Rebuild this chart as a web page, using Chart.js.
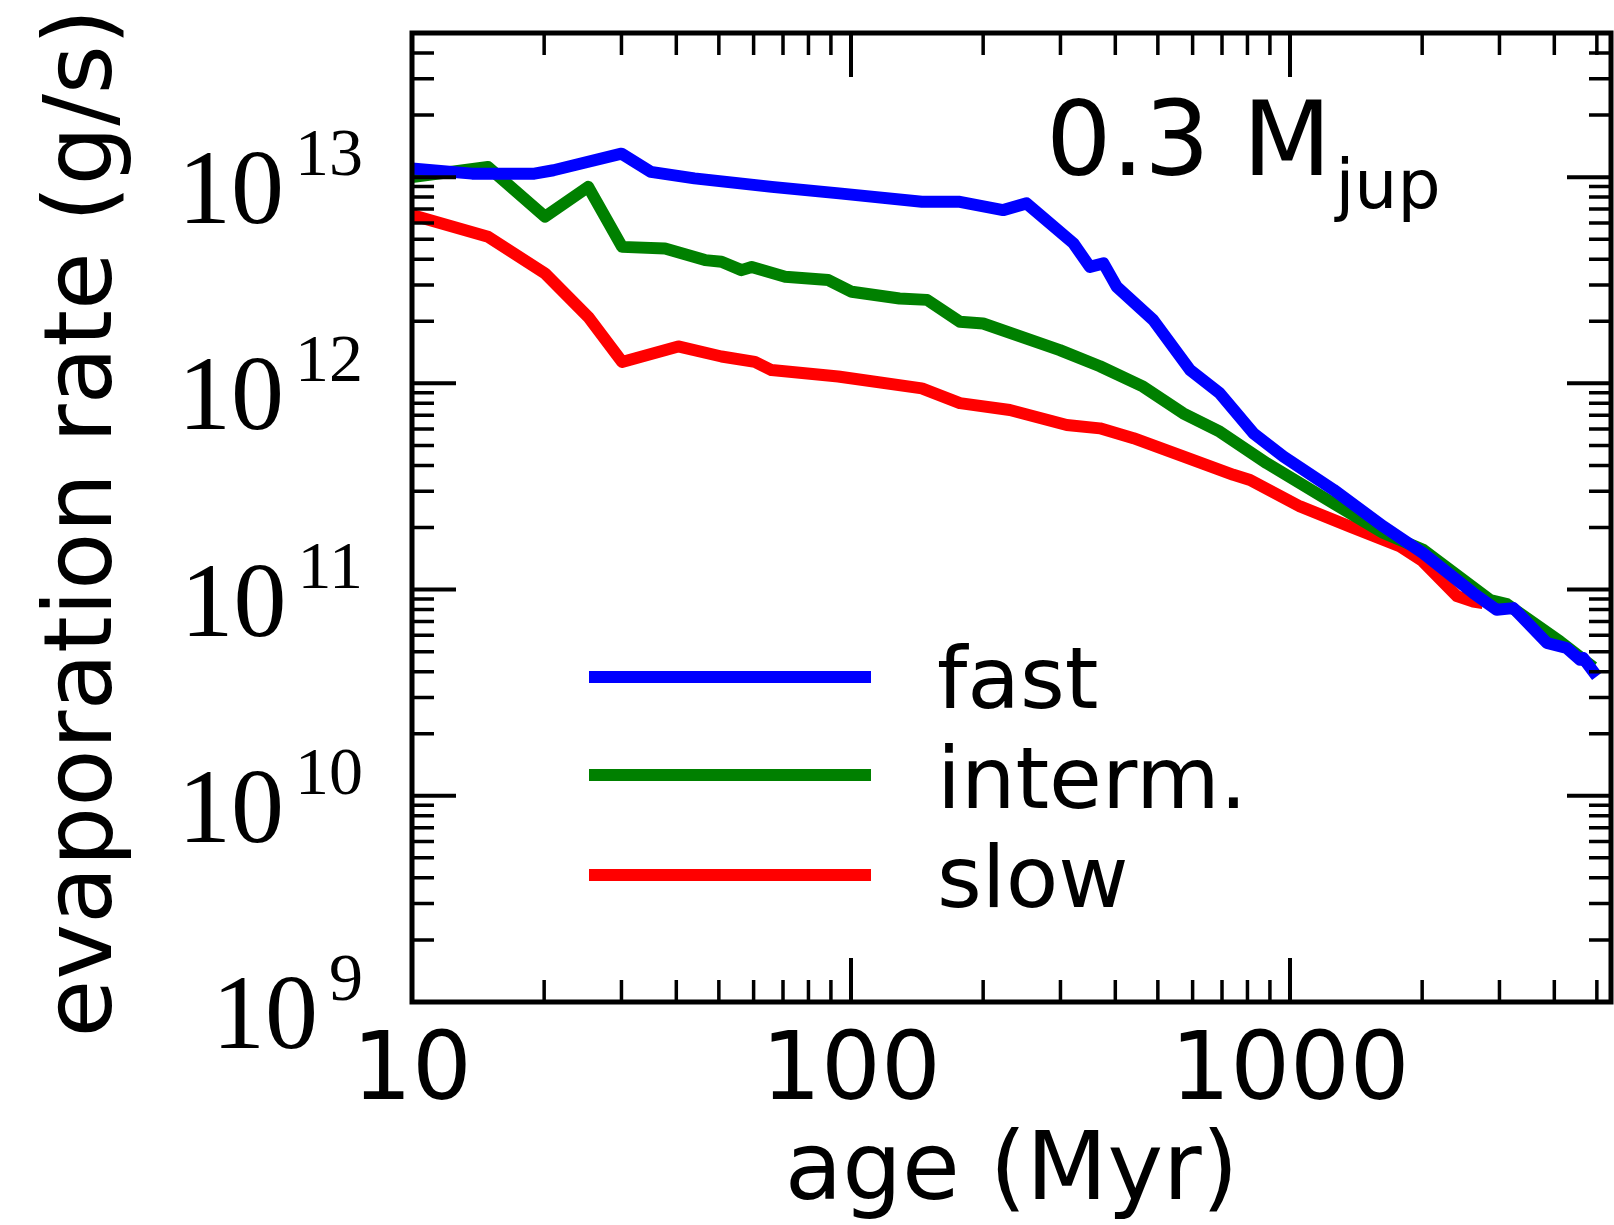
<!DOCTYPE html>
<html>
<head>
<meta charset="utf-8">
<script src="https://cdn.jsdelivr.net/npm/chart.js@4/dist/chart.umd.min.js"></script>
<style>
  html, body { margin: 0; padding: 0; background: #ffffff; }
  #wrap { width: 1614px; height: 1225px; }
</style>
</head>
<body>
<div id="wrap"><canvas id="c" width="1614" height="1225"></canvas></div>
<script>
// Evaporation rate (g/s) versus age (Myr) for three rotation histories
const fastAge = [10, 13.7, 19, 21, 30, 35, 44, 66, 94, 145, 177, 222, 251, 321, 350, 376, 403, 488, 592, 692, 825, 966, 1256, 1633, 2011, 2615, 2958, 3228, 3848, 4267, 4576, 4650, 5000];
const fastRate = [1.10e13, 1.04e13, 1.04e13, 1.08e13, 1.30e13, 1.06e13, 9.86e12, 8.97e12, 8.34e12, 7.59e12, 7.59e12, 6.92e12, 7.46e12, 4.78e12, 3.67e12, 3.82e12, 2.94e12, 2.03e12, 1.16e12, 8.95e11, 5.73e11, 4.42e11, 3.05e11, 2.02e11, 1.50e11, 9.62e10, 7.98e10, 8.13e10, 5.51e10, 5.21e10, 4.57e10, 4.66e10, 3.79e10];

const intermAge = [10, 14.9, 20.1, 25.2, 30.1, 37.7, 46.5, 50.7, 56.3, 59.4, 70.8, 88.8, 100.4, 129, 149, 177, 200, 299, 369, 463, 571, 692, 885, 1256, 1633, 2011, 2858, 3119, 4121, 4910];
const intermRate = [1.00e13, 1.12e13, 6.43e12, 8.97e12, 4.59e12, 4.51e12, 3.96e12, 3.89e12, 3.54e12, 3.67e12, 3.29e12, 3.17e12, 2.78e12, 2.58e12, 2.54e12, 1.99e12, 1.95e12, 1.45e12, 1.21e12, 9.64e11, 7.16e11, 5.83e11, 4.10e11, 2.62e11, 1.88e11, 1.56e11, 8.9e10, 8.5e10, 5.6e10, 4.2e10];

const slowAge = [10, 14.9, 20.1, 25.2, 30.1, 40.4, 50.7, 60.4, 65.9, 93.5, 145, 177, 230, 310, 369, 440, 571, 743, 811, 1054, 1371, 1782, 2000, 2399, 2615, 2750];
const slowRate = [6.55e12, 5.14e12, 3.41e12, 2.10e12, 1.27e12, 1.51e12, 1.35e12, 1.27e12, 1.16e12, 1.08e12, 9.46e11, 8.02e11, 7.43e11, 6.28e11, 6.05e11, 5.42e11, 4.42e11, 3.60e11, 3.40e11, 2.53e11, 2.02e11, 1.62e11, 1.38e11, 9.29e10, 8.75e10, 8.60e10];

const seriesNames = ['fast', 'interm.', 'slow'];
const seriesColors = ['#0000ff', '#008000', '#ff0000'];

const xTickValues = [10, 100, 1000];
const xTickLabels = ['10', '100', '1000'];
const yTickExponents = [9, 10, 11, 12, 13];

const xTitle = 'age (Myr)';
const yTitle = 'evaporation rate (g/s)';
const massMain = '0.3 M';
const massSub = 'jup';

const X_MIN = 10, X_MAX = 5385;
const Y_MIN = 1e9, Y_MAX = 5e13;

const toPoints = (ages, rates) => ages.map((a, i) => ({ x: a, y: rates[i] }));

const SANS = '"DejaVu Sans", sans-serif';
const SERIF = '"Liberation Serif", "DejaVu Serif", serif';

// frame, inward ticks, tick labels, axis titles, legend and mass annotation
const decorations = {
  id: 'decorations',
  afterDraw(chart) {
    const ctx = chart.ctx;
    const area = chart.chartArea;
    const xs = chart.scales.x, ys = chart.scales.y;
    ctx.save();
    ctx.strokeStyle = '#000';
    ctx.fillStyle = '#000';
    ctx.lineCap = 'butt';

    const MAJ = 44, MIN = 22;
    // x ticks (bottom and top)
    const xTicks = [];
    for (let d = 10; d < X_MAX; d *= 10) {
      xTicks.push({ v: d, major: true });
      for (let m = 2; m <= 9; m++) if (m * d < X_MAX) xTicks.push({ v: m * d, major: false });
    }
    xTicks.forEach(t => {
      const px = xs.getPixelForValue(t.v);
      const len = t.major ? MAJ : MIN;
      ctx.lineWidth = t.major ? 4 : 3.5;
      ctx.beginPath();
      ctx.moveTo(px, area.bottom); ctx.lineTo(px, area.bottom - len);
      ctx.moveTo(px, area.top); ctx.lineTo(px, area.top + len);
      ctx.stroke();
    });
    // y ticks (left and right)
    const yTicks = [];
    for (let e = 9; e <= 13; e++) {
      const d = Math.pow(10, e);
      yTicks.push({ v: d, major: true });
      for (let m = 2; m <= 9; m++) if (m * d < Y_MAX * 0.999) yTicks.push({ v: m * d, major: false });
    }
    yTicks.forEach(t => {
      const py = ys.getPixelForValue(t.v);
      const len = t.major ? MAJ : MIN;
      ctx.lineWidth = t.major ? 4 : 3.5;
      ctx.beginPath();
      ctx.moveTo(area.left, py); ctx.lineTo(area.left + len, py);
      ctx.moveTo(area.right, py); ctx.lineTo(area.right - len, py);
      ctx.stroke();
    });

    // frame
    ctx.lineWidth = 5;
    ctx.strokeRect(area.left, area.top, area.right - area.left, area.bottom - area.top);

    // x tick labels
    ctx.font = '94px ' + SANS;
    ctx.textAlign = 'center';
    ctx.textBaseline = 'alphabetic';
    xTickValues.forEach((v, i) => {
      ctx.fillText(xTickLabels[i], xs.getPixelForValue(v), area.bottom + 97);
    });

    // y tick labels: 10 with superscript exponent, right aligned
    const rightEdge = 363;
    yTickExponents.forEach(e => {
      const py = ys.getPixelForValue(Math.pow(10, e));
      ctx.textAlign = 'right';
      ctx.font = '68px ' + SERIF;
      const sup = String(e);
      const supW = ctx.measureText(sup).width;
      ctx.fillText(sup, rightEdge, py - 2);
      ctx.font = '106px ' + SERIF;
      ctx.fillText('10', rightEdge - supW - 11, py + 46);
    });

    // axis titles
    ctx.font = '94px ' + SANS;
    ctx.textAlign = 'center';
    ctx.fillText(xTitle, (area.left + area.right) / 2, 1199);
    ctx.save();
    ctx.translate(111, 523);
    ctx.rotate(-Math.PI / 2);
    ctx.fillText(yTitle, 0, 0);
    ctx.restore();

    // mass annotation
    ctx.textAlign = 'left';
    ctx.font = '103px ' + SANS;
    ctx.fillText(massMain, 1046, 175);
    const mw = ctx.measureText(massMain).width;
    ctx.font = '68px ' + SANS;
    ctx.fillText(massSub, 1046 + mw + 4, 208);

    // legend
    const legY = [677, 775, 875];
    const legBase = [708, 808, 907];
    chart.data.datasets.forEach((ds, i) => {
      ctx.strokeStyle = ds.borderColor;
      ctx.lineWidth = 12;
      ctx.beginPath();
      ctx.moveTo(589, legY[i]); ctx.lineTo(871, legY[i]);
      ctx.stroke();
      ctx.fillStyle = '#000';
      ctx.font = '86px ' + SANS;
      ctx.fillText(ds.label, 937, legBase[i]);
    });
    ctx.restore();
  }
};

const datasets = [
  [fastAge, fastRate],
  [intermAge, intermRate],
  [slowAge, slowRate]
].map(([a, r], i) => ({
  label: seriesNames[i],
  data: toPoints(a, r),
  borderColor: seriesColors[i],
  backgroundColor: seriesColors[i],
  borderWidth: 12,
  pointRadius: 0,
  tension: 0,
  fill: false,
  borderJoinStyle: 'round',
  borderCapStyle: 'butt',
  clip: 0
}));

new Chart(document.getElementById('c').getContext('2d'), {
  type: 'line',
  data: { datasets },
  options: {
    responsive: false,
    animation: false,
    devicePixelRatio: 1,
    layout: { padding: { left: 412, top: 33, right: 3, bottom: 223 } },
    plugins: { legend: { display: false }, tooltip: { enabled: false } },
    scales: {
      x: { type: 'logarithmic', min: X_MIN, max: X_MAX, display: false },
      y: { type: 'logarithmic', min: Y_MIN, max: Y_MAX, display: false }
    }
  },
  plugins: [decorations]
});
</script>
</body>
</html>
